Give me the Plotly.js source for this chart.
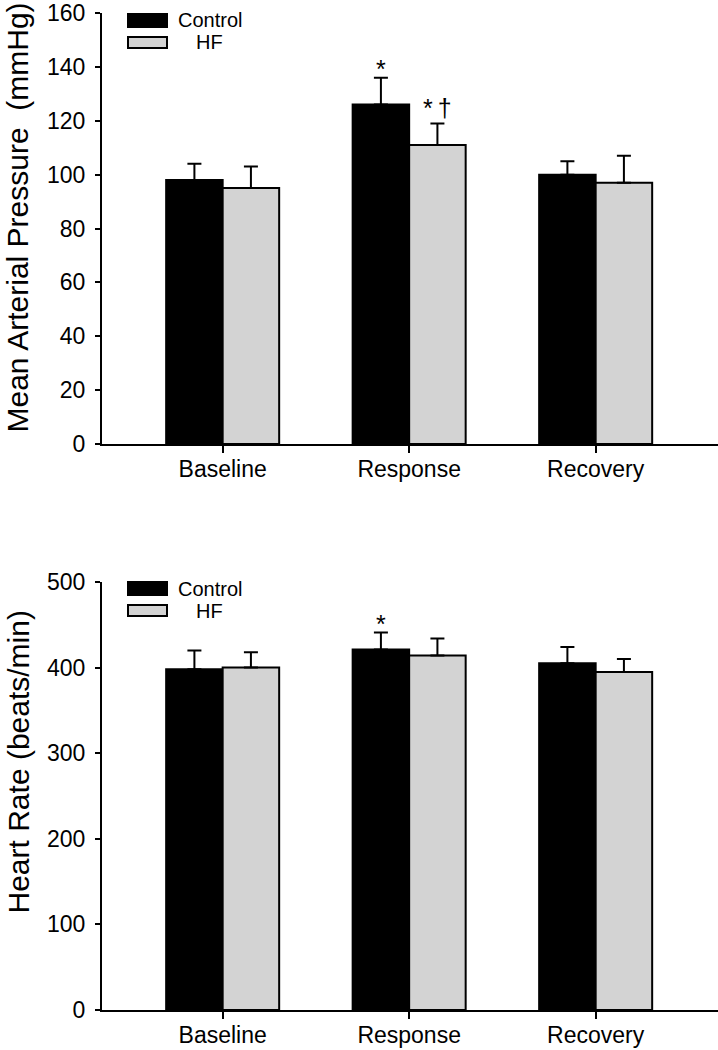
<!DOCTYPE html>
<html>
<head>
<meta charset="utf-8">
<script src="https://cdn.plot.ly/plotly-3.0.1.min.js"></script>
<style>
  html, body { margin: 0; padding: 0; background: #fff; }
  #chart { width: 718px; height: 1050px; }
</style>
</head>
<body>
<div id="chart"></div>
<script>
// ---- data ----
const categories = ['Baseline', 'Response', 'Recovery'];
const seriesNames = ['Control', 'HF'];

const mapControl = [98, 126, 100];
const mapControlErr = [6, 10, 5];
const mapHF = [95, 111, 97];
const mapHFErr = [8, 8, 10];

const hrControl = [398, 421, 405];
const hrControlErr = [22, 20, 19];
const hrHF = [400, 414, 395];
const hrHFErr = [18, 20, 15];

const mapTicks = [0, 20, 40, 60, 80, 100, 120, 140, 160];
const hrTicks = [0, 100, 200, 300, 400, 500];

const mapTitle = 'Mean Arterial Pressure&nbsp;&nbsp;(mmHg)';
const hrTitle = 'Heart Rate (beats/min)';

// significance marks: series index, category index, label
const mapMarks = [[0, 1, '*'], [1, 1, '*\u2009\u2020']];
const hrMarks = [[0, 1, '*']];

// ---- styling ----
const W = 718, H = 1050;
const FONT = 'Liberation Sans, Arial, sans-serif';
const colors = ['#000000', '#d3d3d3'];
const bargap = 0.394;
const barW = (1 - bargap) / 2;
const px = v => v / W;
const py = v => 1 - v / H;

function makeTraces(vals, errs, xa, ya) {
  return vals.map((v, i) => ({
    type: 'bar',
    x: categories,
    y: v,
    name: seriesNames[i],
    xaxis: xa, yaxis: ya,
    showlegend: false,
    marker: { color: colors[i], line: { color: '#000', width: 2 } },
    error_y: {
      type: 'data', array: errs[i], arrayminus: errs[i].map(() => 0),
      symmetric: false, color: '#000', thickness: 2, width: 7
    },
    hoverinfo: 'none'
  }));
}

const traces = [
  ...makeTraces([mapControl, mapHF], [mapControlErr, mapHFErr], 'x', 'y'),
  ...makeTraces([hrControl, hrHF], [hrControlErr, hrHFErr], 'x2', 'y2')
];

function xAxis(anchor) {
  return {
    domain: [px(102), 1], anchor: anchor,
    type: 'category', range: [-0.647, 2.656],
    showline: true, linecolor: '#000', linewidth: 2,
    ticks: 'outside', ticklen: 7, tickwidth: 2, tickcolor: '#000',
    tickfont: { family: FONT, size: 23, color: '#000' },
    ticklabelstandoff: -4,
    showgrid: false, zeroline: false, fixedrange: true
  };
}
function yAxis(anchor, dom, range, ticks) {
  return {
    domain: dom, anchor: anchor, range: range,
    tickmode: 'array', tickvals: ticks, ticktext: ticks.map(String),
    showline: true, linecolor: '#000', linewidth: 2,
    ticks: 'outside', ticklen: 5, tickwidth: 2, tickcolor: '#000',
    tickfont: { family: FONT, size: 23, color: '#000' },
    ticklabelstandoff: 5,
    showgrid: false, zeroline: false, fixedrange: true
  };
}

const annotations = [];
const shapes = [];

function addMarks(marks, vals, errs, xr, yr) {
  marks.forEach(([s, c, t]) => {
    annotations.push({
      x: c + (s === 0 ? -barW / 2 : barW / 2), y: vals[s][c] + errs[s][c],
      xref: xr, yref: yr, text: t, showarrow: false,
      yanchor: 'bottom', yshift: t.length > 1 ? -1 : -7,
      font: { family: FONT, size: 25, color: '#000' }
    });
  });
}
addMarks(mapMarks, [mapControl, mapHF], [mapControlErr, mapHFErr], 'x', 'y');
addMarks(hrMarks, [hrControl, hrHF], [hrControlErr, hrHFErr], 'x2', 'y2');

// axis titles
annotations.push({
  xref: 'paper', yref: 'paper', x: 0, y: py(218), text: mapTitle,
  textangle: -90, showarrow: false, xanchor: 'left', yanchor: 'middle', borderpad: 0,
  font: { family: FONT, size: 30, color: '#000' }
});
annotations.push({
  xref: 'paper', yref: 'paper', x: 0, y: py(762), text: hrTitle,
  textangle: -90, showarrow: false, xanchor: 'left', yanchor: 'middle', borderpad: 0,
  font: { family: FONT, size: 30, color: '#000' }
});

// legends (boxes + labels)
function addLegend(top) {
  const boxes = [[top, top + 13], [top + 23, top + 34]];
  boxes.forEach((b, i) => {
    shapes.push({
      type: 'rect', xref: 'paper', yref: 'paper',
      x0: px(128), x1: px(167), y0: py(b[1]), y1: py(b[0]),
      fillcolor: colors[i], line: { color: '#000', width: 2 }
    });
    annotations.push({
      xref: 'paper', yref: 'paper', x: px(i === 0 ? 176 : 194), y: py((b[0] + b[1]) / 2),
      text: seriesNames[i], showarrow: false, xanchor: 'left', yanchor: 'middle',
      font: { family: FONT, size: 20, color: '#000' }
    });
  });
}
addLegend(14);
addLegend(582);

const layout = {
  width: W, height: H,
  margin: { l: 0, r: 0, t: 0, b: 0 },
  paper_bgcolor: '#fff', plot_bgcolor: '#fff',
  barmode: 'group', bargap: bargap, bargroupgap: 0,
  showlegend: false,
  xaxis: xAxis('y'),
  yaxis: yAxis('x', [py(444), py(13)], [0, 160], mapTicks),
  xaxis2: xAxis('y2'),
  yaxis2: yAxis('x2', [py(1010), py(582)], [0, 500], hrTicks),
  annotations: annotations,
  shapes: shapes
};

Plotly.newPlot('chart', traces, layout, { displayModeBar: false, staticPlot: true });
</script>
</body>
</html>
